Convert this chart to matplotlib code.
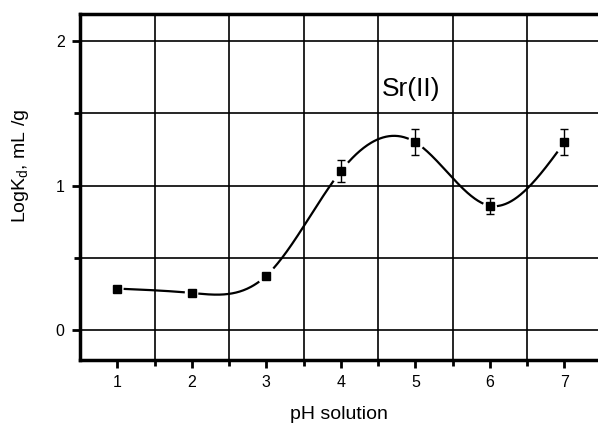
import numpy as np
import matplotlib.pyplot as plt

plt.rcParams['font.family'] = ['Liberation Sans', 'DejaVu Sans']

# data
ph = np.array([1, 2, 3, 4, 5, 6, 7])
logkd = np.array([0.285, 0.255, 0.375, 1.10, 1.30, 0.86, 1.30])
err = np.array([0.015, 0.01, 0.02, 0.075, 0.09, 0.055, 0.09])
xticks = [1, 2, 3, 4, 5, 6, 7]
yticks = [0, 1, 2]


def natural_spline(x, y, xs):
    # natural cubic spline through the data points
    n = len(x)
    h = np.diff(x)
    A = np.zeros((n, n))
    r = np.zeros(n)
    A[0, 0] = 1
    A[-1, -1] = 1
    for i in range(1, n - 1):
        A[i, i - 1] = h[i - 1]
        A[i, i] = 2 * (h[i - 1] + h[i])
        A[i, i + 1] = h[i]
        r[i] = 6 * ((y[i + 1] - y[i]) / h[i] - (y[i] - y[i - 1]) / h[i - 1])
    m = np.linalg.solve(A, r)
    idx = np.clip(np.searchsorted(x, xs) - 1, 0, n - 2)
    x0, x1 = x[idx], x[idx + 1]
    hh = x1 - x0
    t0 = x1 - xs
    t1 = xs - x0
    return (m[idx] * t0**3 / (6 * hh) + m[idx + 1] * t1**3 / (6 * hh)
            + (y[idx] / hh - m[idx] * hh / 6) * t0
            + (y[idx + 1] / hh - m[idx + 1] * hh / 6) * t1)


fig = plt.figure(figsize=(5.98, 4.23), dpi=100)
ax = fig.add_axes([80 / 598, 63 / 423, 518 / 598, 346 / 423])

xs = np.linspace(1, 7, 600)
ys = natural_spline(ph.astype(float), logkd, xs)
# leave a small gap round each point, like the original
for p in ph:
    ys[np.abs(xs - p) < 0.1] = np.nan
ax.plot(xs, ys, color='black', lw=1.6, zorder=3)

ax.errorbar(ph, logkd, yerr=err, fmt='s', color='black', ms=5.5,
            capsize=3, elinewidth=1, capthick=1, zorder=4)

ax.set_xlim(0.5, 7.45)
ax.set_ylim(-0.21, 2.19)
ax.set_xticks(xticks)
ax.set_xticks([1.5, 2.5, 3.5, 4.5, 5.5, 6.5], minor=True)
ax.set_yticks(yticks)
ax.set_yticks([0.5, 1.5], minor=True)

ax.grid(True, which='major', axis='y', color='black', lw=1.2)
ax.grid(True, which='minor', axis='both', color='black', lw=1.2)

ax.tick_params(axis='both', which='major', direction='out', length=6, width=2,
               labelsize=11.5, pad=5)
ax.tick_params(axis='both', which='minor', direction='out', length=4, width=2)

for s in ['left', 'bottom', 'top']:
    ax.spines[s].set_linewidth(2.5)
ax.spines['right'].set_visible(False)

ax.text(4.55, 1.67, 'Sr(II)', fontsize=19, va='center', ha='left')

ax.set_xlabel('pH solution', fontsize=14, labelpad=11)
ax.set_ylabel('LogK$_\\mathregular{d}$, mL /g', fontsize=14)
ax.yaxis.set_label_coords(-0.095, 0.56)

fig.savefig('out.png', dpi=100)
